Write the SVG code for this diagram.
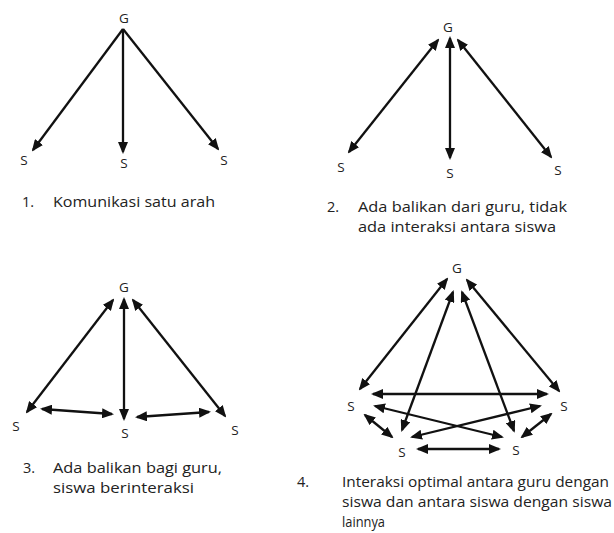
<svg xmlns="http://www.w3.org/2000/svg" width="614" height="533" viewBox="0 0 614 533">
<style>
.c line{stroke:#111;stroke-width:2.3;fill:none}
.e{marker-end:url(#ah)}
.b{marker-end:url(#ah);marker-start:url(#ah)}
text{font-family:"Open Sans","Liberation Sans",sans-serif;fill:#222}
.n{font-size:13.5px;text-anchor:middle}
.t{font-size:14.5px}
</style>
<defs>
<marker id="ah" markerUnits="userSpaceOnUse" markerWidth="12" markerHeight="10" refX="10" refY="5" orient="auto-start-reverse">
<path d="M0,0 L12,5 L0,10 z" fill="#111"/>
</marker>
</defs>
<rect width="614" height="533" fill="#fff"/>
<g id="connectors" class="c">
<line class="e" x1="123" y1="29" x2="33" y2="150"/>
<line class="e" x1="123" y1="29" x2="123" y2="152"/>
<line class="e" x1="123" y1="29" x2="218" y2="149"/>
<line class="b" x1="438" y1="40" x2="349" y2="152"/>
<line class="b" x1="450" y1="38" x2="450" y2="158"/>
<line class="b" x1="458" y1="40" x2="551" y2="157"/>
<line class="b" x1="113" y1="300" x2="27" y2="412"/>
<line class="b" x1="124" y1="299" x2="124" y2="419"/>
<line class="b" x1="133" y1="300" x2="225" y2="416"/>
<line class="b" x1="42" y1="409" x2="112" y2="414"/>
<line class="b" x1="137" y1="417" x2="209" y2="412"/>
<line class="b" x1="447" y1="279" x2="360" y2="389"/>
<line class="b" x1="453" y1="292" x2="402" y2="430"/>
<line class="b" x1="462" y1="292" x2="514" y2="431"/>
<line class="b" x1="467" y1="280" x2="559" y2="391"/>
<line class="b" x1="373" y1="394" x2="547" y2="394"/>
<line class="b" x1="375" y1="406" x2="502" y2="437"/>
<line class="b" x1="540" y1="406" x2="412" y2="437"/>
<line class="b" x1="365" y1="415" x2="392" y2="437"/>
<line class="b" x1="551" y1="414" x2="522" y2="437"/>
<line class="b" x1="418" y1="449" x2="499" y2="449"/>
</g>
<g id="p1-G"><text class="n" x="124" y="23">G</text></g>
<g id="p1-S1"><text class="n" x="24" y="165">S</text></g>
<g id="p1-S2"><text class="n" x="124" y="168">S</text></g>
<g id="p1-S3"><text class="n" x="224" y="165">S</text></g>
<g id="p2-G"><text class="n" x="448" y="32">G</text></g>
<g id="p2-S1"><text class="n" x="341" y="172">S</text></g>
<g id="p2-S2"><text class="n" x="450" y="178">S</text></g>
<g id="p2-S3"><text class="n" x="558" y="175">S</text></g>
<g id="p3-G"><text class="n" x="124" y="292">G</text></g>
<g id="p3-S1"><text class="n" x="16" y="431">S</text></g>
<g id="p3-S2"><text class="n" x="125" y="438">S</text></g>
<g id="p3-S3"><text class="n" x="235" y="435">S</text></g>
<g id="p4-G"><text class="n" x="457" y="273">G</text></g>
<g id="p4-S1"><text class="n" x="351" y="411">S</text></g>
<g id="p4-S2"><text class="n" x="564" y="411">S</text></g>
<g id="p4-S3"><text class="n" x="402" y="457">S</text></g>
<g id="p4-S4"><text class="n" x="516" y="455">S</text></g>
<g id="caption1">
<text class="t" x="22" y="207">1.</text>
<text class="t" x="53" y="207" textLength="162" lengthAdjust="spacingAndGlyphs">Komunikasi satu arah</text>
</g>
<g id="caption2">
<text class="t" x="327" y="212">2.</text>
<text class="t" x="358" y="212" textLength="209" lengthAdjust="spacingAndGlyphs">Ada balikan dari guru, tidak</text>
<text class="t" x="358" y="232" textLength="198" lengthAdjust="spacingAndGlyphs">ada interaksi antara siswa</text>
</g>
<g id="caption3">
<text class="t" x="23" y="473">3.</text>
<text class="t" x="53" y="473" textLength="169" lengthAdjust="spacingAndGlyphs">Ada balikan bagi guru,</text>
<text class="t" x="53" y="493" textLength="141" lengthAdjust="spacingAndGlyphs">siswa berinteraksi</text>
</g>
<g id="caption4">
<text class="t" x="297" y="487">4.</text>
<text class="t" x="342" y="487" textLength="267" lengthAdjust="spacingAndGlyphs">Interaksi optimal antara guru dengan</text>
<text class="t" x="342" y="507" textLength="270" lengthAdjust="spacingAndGlyphs">siswa dan antara  siswa dengan siswa</text>
<text class="t" x="342" y="527" textLength="43" lengthAdjust="spacingAndGlyphs">lainnya</text>
</g>
</svg>
